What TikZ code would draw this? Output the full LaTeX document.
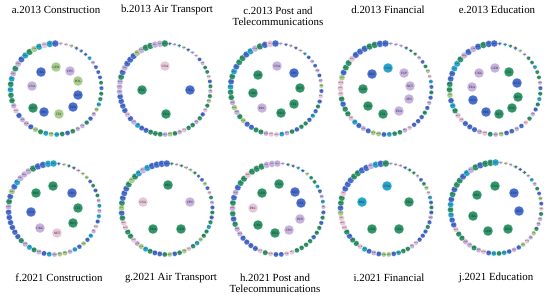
\documentclass[tikz,border=0pt]{standalone}
\usepackage{fontspec}
\setmainfont{Liberation Serif}
\usetikzlibrary{calc}
\pgfdeclarelayer{bg}
\pgfsetlayers{bg,main}
\definecolor{nb}{RGB}{72,110,208}
\definecolor{ng}{RGB}{48,150,105}
\definecolor{np}{RGB}{198,178,222}
\definecolor{nt}{RGB}{40,165,205}
\definecolor{nl}{RGB}{168,205,140}
\definecolor{nk}{RGB}{232,198,218}
\definecolor{disk}{RGB}{213,227,235}
\definecolor{edgec}{RGB}{105,200,222}
\definecolor{halo}{RGB}{150,235,240}
\tikzset{
  ringnode/.style={circle,inner sep=0pt,draw=white,line width=0.15pt,font=\fontsize{1.9}{2}\selectfont,text=black!80},
  hub/.style={circle,inner sep=0pt,minimum size=10pt,draw=white,line width=0.2pt,font=\fontsize{3.3}{3.5}\selectfont,text=black!85},
  title/.style={font=\fontsize{10.9}{10.6}\selectfont,align=center,text=black},
  edgeline/.style={draw=edgec,line width=0.15pt,opacity=0.42},
}
\makeatletter
\newcount\ringidx
\def\allcodes{AUS,AUT,BEL,BGR,BRA,CAN,SWI,PRC,CYP,CZE,GER,DEN,ESP,EST,FIN,FRA,UKG,GRC,HRV,HUN,INO,IND,IRE,ITA,JPN,KOR,LTU,LUX,LVA,MEX,MLT,NET,NOR,POL,POR,ROM,RUS,SVK,SVN,SWE,TUR,TAP,USA,BAN,MAL,PHI,THA,VIE,KAZ,MON,SRI,PAK,FIJ,LAO,BRU,BHU,KGZ,CAM,MLD,NEP,SIN,HKG}
\def\pickcol#1{\ifcase#1 nb\or ng\or np\or nb\or ng\or nt\or np\or nl\or ng\or nb\else nk\fi}
\newcommand{\netpanel}[4]{%
  \gdef\hubnames{,}%
  \foreach \hx/\hy/\hl/\hc in {#4} {\xdef\hubnames{\hubnames\hl,}}%
  \global\ringidx=0
  \foreach \cc in \allcodes {\edef\tmp{\noexpand\in@{,\cc,}{\hubnames}}\tmp\ifin@\else\global\advance\ringidx by 1\fi}%
  \edef\ringN{\the\ringidx}%
  \pgfmathsetseed{#2}%
  \global\ringidx=0
  \foreach \cc in \allcodes {%
    \edef\tmp{\noexpand\in@{,\cc,}{\hubnames}}\tmp
    \ifin@\else
      \edef\rid{\the\ringidx}%
      \pgfmathsetmacro{\ang}{-84+\rid*(360/\ringN)}%
      \pgfmathsetmacro{\sz}{3.6+\rid*(3.4/(\ringN-1))}%
      \pgfmathrandominteger{\ci}{0}{10}%
      \edef\cname{\pickcol{\ci}}%
      \node[ringnode,fill=\cname,minimum size=\sz pt] (#1-r\rid) at ($(#2,#3)+(\ang:45.5)$) {\makebox[0pt]{\cc}};%
      \global\advance\ringidx by 1
    \fi}%
  \foreach \hx/\hy/\hl/\hc in {#4} {\node[hub,fill=\hc] (#1-\hl) at (\hx,\hy) {\hl};}%
  \pgfmathtruncatemacro{\lastN}{\ringN-1}%
  \begin{pgfonlayer}{bg}%
    \fill[disk] (#2,#3) circle (48);
    \foreach \i in {0,...,\lastN} {\foreach \s in {5,11,17,24} {\pgfmathtruncatemacro{\j}{mod(\i+\s,\ringN)}\draw[edgeline] (#1-r\i) -- (#1-r\j);}}%
    \foreach \hx/\hy/\hl/\hc in {#4} {\foreach \k in {0,2,...,\lastN} {\draw[edgeline] (#1-\hl) -- (#1-r\k);}}%
    \foreach \i in {0,...,\lastN} {\pgfmathsetmacro{\hr}{3.0+\i*(1.7/(\ringN-1))}\fill[halo,opacity=0.35] (#1-r\i.center) circle (\hr);}%
    \foreach \hx/\hy/\hl/\hc in {#4} {\fill[halo,opacity=0.55] (\hx,\hy) circle (7.2);}%
  \end{pgfonlayer}%
}
\makeatother
\begin{document}
\begin{tikzpicture}[x=1pt,y=-1pt]
\useasboundingbox (0,0) rectangle (550,299);
\fill[white] (0,0) rectangle (550,299);
% titles
\node[title] (ta) at (56,10) {a.2013 Construction};
\node[title] (tb) at (167,10) {b.2013 Air Transport};
\node[title] (tc) at (278,16) {c.2013 Post and\\Telecommunications};
\node[title] (td) at (388,10) {d.2013 Financial};
\node[title] (te) at (497,10) {e.2013 Education};
\node[title] (tf) at (59,278) {f.2021 Construction};
\node[title] (tg) at (171,278) {g.2021 Air Transport};
\node[title] (th) at (275,283) {h.2021 Post and\\Telecommunications};
\node[title] (ti) at (389,278) {i.2021 Financial};
\node[title] (tj) at (496,278) {j.2021 Education};
% panels
\netpanel{a}{56}{89}{56/67/GER/nl, 70/71/JPN/np, 41/72/UKG/nb, 32/86/USA/np, 78/81/POL/nl, 78/95/AUS/nb, 33/108/NET/ng, 44/112/PRC/nb, 59/114/ITA/nl, 73/107/FRA/nb}
\netpanel{b}{165}{89}{165/66/USA/nk, 142/90/PRC/ng, 190/90/UKG/nb, 166/114/FRA/ng}
\netpanel{c}{276}{89}{277/66/USA/np, 258/75/GER/ng, 294/73/JPN/nb, 253/93/UKG/ng, 300/88/RUS/ng, 294/104/ITA/ng, 262/108/PRC/np, 281/113/FRA/ng}
\netpanel{d}{386}{89}{388/68/USA/nt, 404/73/ESP/np, 372/74/PRC/nb, 410/86/NET/np, 363/89/GER/ng, 409/99/JPN/np, 368/106/UKG/ng, 399/111/FRA/np, 383/114/ITA/ng}
\netpanel{e}{495}{89}{495/68/GER/np, 479/73/UKG/np, 509/72/ITA/ng, 517/83/AUS/nb, 472/87/FRA/np, 518/97/RUS/ng, 473/100/USA/nb, 512/108/ESP/ng, 486/112/PRC/nb, 499/114/NET/ng}
\netpanel{f}{54}{209}{53/186/GER/ng, 72/193/JPN/nb, 36/193/PRC/ng, 78/208/ITA/ng, 31/212/USA/nb, 73/223/RUS/ng, 40/228/UKG/np, 57/233/NET/nk}
\netpanel{g}{167}{209}{168/185/PRC/ng, 143/202/USA/nk, 190/202/JPN/np, 153/229/FRA/ng, 181/229/GER/ng}
\netpanel{h}{278}{209}{279/184/USA/ng, 295/192/NET/nb, 262/193/GER/ng, 301/203/ITA/nb, 253/208/PRC/nk, 300/219/IND/np, 258/225/UKG/ng, 289/230/JPN/np, 275/233/FRA/ng}
\netpanel{i}{386}{209}{387/186/USA/nt, 362/202/PRC/nt, 409/202/FRA/ng, 372/229/GER/ng, 399/229/UKG/ng}
\netpanel{j}{496}{208}{495/186/USA/ng, 477/195/PRC/ng, 514/193/ESP/nb, 519/211/NET/nb, 473/216/UKG/ng, 488/231/GER/ng, 508/229/FRA/ng}
\end{tikzpicture}
\end{document}
